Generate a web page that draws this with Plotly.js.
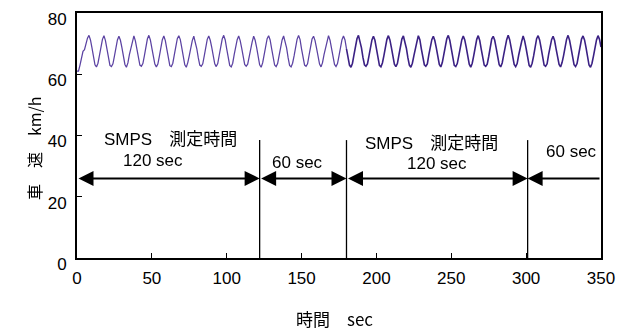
<!DOCTYPE html>
<html>
<head>
<meta charset="utf-8">
<script src="https://cdn.plot.ly/plotly-3.0.1.min.js"></script>
<style>
  html, body { margin: 0; padding: 0; background: #fff; }
  #chart { width: 617px; height: 330px; }
  #chart svg .annotation-text-g { filter: grayscale(1); }
</style>
</head>
<body>
<div id="chart"></div>
<script>
// Vehicle speed (km/h), logged once per second, t = 0 ... 350 s.
// One row per 10 seconds.
const speedRows = [
  [61.0, 61.0, 63.0, 65.5, 67.5, 68.0, 70.0, 71.8, 72.7, 71.2],
  [68.6, 65.4, 63.1, 62.4, 63.6, 66.2, 69.1, 71.4, 72.6, 71.0],
  [68.3, 65.2, 62.9, 62.5, 63.4, 65.9, 68.8, 71.2, 72.4, 71.1],
  [68.7, 65.6, 63.2, 62.3, 63.7, 66.4, 68.6, 70.3, 72.5, 70.9],
  [68.4, 65.3, 63.0, 62.6, 63.5, 66.0, 69.0, 71.5, 72.7, 71.2],
  [68.5, 65.7, 63.3, 62.4, 63.3, 65.8, 68.9, 71.3, 72.5, 71.0],
  [68.2, 65.1, 62.8, 62.5, 63.6, 66.3, 69.2, 71.6, 72.6, 71.3],
  [68.6, 65.5, 63.1, 62.3, 63.8, 66.1, 68.7, 71.0, 72.4, 70.8],
  [68.4, 65.4, 63.0, 62.6, 63.4, 66.0, 69.0, 71.4, 72.5, 71.1],
  [68.8, 65.8, 63.4, 62.5, 63.5, 66.2, 69.3, 71.5, 72.7, 71.2],
  [68.3, 65.2, 62.9, 62.4, 63.6, 66.4, 69.1, 71.3, 72.5, 71.0],
  [68.5, 65.5, 63.2, 62.6, 63.3, 65.7, 68.6, 70.6, 72.4, 71.1],
  [68.7, 65.6, 63.1, 62.3, 63.7, 66.3, 69.2, 71.6, 72.6, 71.2],
  [68.4, 65.3, 63.0, 62.5, 63.5, 66.1, 68.9, 71.2, 72.5, 70.9],
  [68.6, 65.4, 62.9, 62.4, 63.6, 66.0, 69.0, 71.4, 72.7, 71.3],
  [68.2, 65.1, 63.0, 62.6, 63.4, 66.2, 69.1, 71.5, 72.4, 71.0],
  [68.5, 65.6, 63.3, 62.4, 63.8, 66.4, 68.8, 70.9, 72.6, 71.1],
  [68.8, 65.7, 63.2, 62.5, 63.5, 66.0, 69.2, 71.3, 72.5, 71.2],
  [68.3, 65.3, 63.0, 62.3, 63.6, 66.3, 69.0, 71.6, 72.7, 71.0],
  [68.6, 65.5, 63.1, 62.6, 63.4, 65.9, 68.7, 71.2, 72.4, 71.1],
  [68.4, 65.2, 62.9, 62.4, 63.7, 66.1, 69.3, 71.4, 72.6, 71.2],
  [68.7, 65.6, 63.3, 62.5, 63.5, 66.2, 69.0, 71.5, 72.5, 70.9],
  [68.5, 65.4, 63.0, 62.3, 63.6, 66.0, 68.8, 70.5, 72.6, 71.3],
  [68.3, 65.3, 63.1, 62.6, 63.4, 66.3, 69.1, 71.3, 72.4, 71.0],
  [68.6, 65.5, 63.2, 62.4, 63.8, 66.4, 69.2, 71.6, 72.7, 71.1],
  [68.4, 65.2, 62.9, 62.5, 63.5, 66.0, 68.9, 71.2, 72.5, 71.2],
  [68.8, 65.7, 63.3, 62.3, 63.6, 66.1, 69.0, 71.4, 72.6, 71.0],
  [68.2, 65.1, 63.0, 62.6, 63.3, 65.8, 68.7, 71.5, 72.4, 71.1],
  [68.5, 65.6, 63.1, 62.4, 63.7, 66.3, 69.3, 71.3, 72.7, 71.3],
  [68.7, 65.4, 63.2, 62.5, 63.5, 66.2, 69.1, 70.7, 72.5, 70.9],
  [68.4, 65.3, 62.9, 62.3, 63.6, 66.0, 69.0, 71.6, 72.6, 71.2],
  [68.6, 65.5, 63.0, 62.6, 63.4, 66.4, 68.8, 71.3, 72.4, 71.0],
  [68.3, 65.2, 63.2, 62.4, 63.8, 66.1, 69.2, 71.4, 72.7, 71.1],
  [68.5, 65.6, 63.1, 62.5, 63.5, 66.2, 69.0, 71.5, 72.5, 71.2],
  [68.7, 65.4, 63.0, 62.3, 63.6, 66.0, 68.9, 71.2, 72.6, 71.4],
  [68.9]
];

// Measurement schedule: boundaries of each interval (s)
const periodStart = [0, 122, 180, 301];
const periodEnd   = [122, 180, 301, 350];
const headAtEnd   = [true, true, true, false];
const arrowLevel  = 26;     // km/h level of the interval arrows
const markerTop   = 38.5;   // height of the boundary lines

// Interval labels (text, x in s, y in km/h)
const labelText = ["SMPS　測定時間", "120 sec", "60 sec", "SMPS　測定時間", "120 sec", "60 sec"];
const labelX    = [62.5, 50.5, 147, 236.5, 240.5, 330];
const labelY    = [38.6, 32.0, 31.3, 37.4, 30.9, 34.8];

const xTicks = [0, 50, 100, 150, 200, 250, 300, 350];
const yTicks = [0, 20, 40, 60, 80];

const speed = [].concat(...speedRows);
const time = speed.map((_, i) => i);
const split = 180;

const FONT = "Liberation Sans, Arial, Noto Sans CJK JP, sans-serif";
const CJK = "Noto Sans CJK JP, Liberation Sans, sans-serif";

const traces = [
  {
    x: time.slice(0, split + 1), y: speed.slice(0, split + 1),
    type: "scatter", mode: "lines",
    line: { color: "#5b42a2", width: 1.25 },
    hoverinfo: "skip", showlegend: false
  },
  {
    x: time.slice(split), y: speed.slice(split),
    type: "scatter", mode: "lines",
    line: { color: "#3b2184", width: 1.6 },
    hoverinfo: "skip", showlegend: false
  }
];

const shapes = periodStart.slice(1).map(t => ({
  type: "line", xref: "x", yref: "y",
  x0: t, x1: t, y0: 0, y1: markerTop,
  line: { color: "#000", width: 1.3 }
}));

const annotations = [];
periodStart.forEach((s, i) => {
  const e = periodEnd[i];
  if (headAtEnd[i]) {
    annotations.push({
      xref: "x", yref: "y", axref: "x", ayref: "y",
      x: e, y: arrowLevel, ax: s, ay: arrowLevel,
      text: "", showarrow: true, arrowside: "end+start",
      arrowhead: 2, arrowsize: 1.5, arrowwidth: 2, arrowcolor: "#000",
      standoff: 0, startstandoff: 0
    });
  } else {
    annotations.push({
      xref: "x", yref: "y", axref: "x", ayref: "y",
      x: s, y: arrowLevel, ax: e, ay: arrowLevel,
      text: "", showarrow: true, arrowside: "end",
      arrowhead: 2, arrowsize: 1.5, arrowwidth: 2, arrowcolor: "#000",
      standoff: 0
    });
  }
});
labelText.forEach((t, i) => {
  annotations.push({
    xref: "x", yref: "y", x: labelX[i], y: labelY[i],
    text: t, showarrow: false,
    font: { family: FONT, size: 17, color: "#000" }
  });
});
// Axis titles
annotations.push({
  xref: "paper", yref: "paper", x: 0.492, y: -0.305,
  text: "時間　sec", showarrow: false,
  font: { family: CJK, size: 17, color: "#000" }
});
annotations.push({
  xref: "paper", yref: "paper", x: -0.11, y: 0.45,
  text: "車　速　km/h", textangle: -90, showarrow: false,
  font: { family: CJK, size: 16, color: "#000" }
});

const layout = {
  width: 617, height: 330,
  margin: { l: 77, r: 16, t: 13, b: 72, pad: 0 },
  paper_bgcolor: "#fff", plot_bgcolor: "#fff",
  font: { family: FONT, size: 17, color: "#000" },
  xaxis: {
    range: [0, 350], tickvals: xTicks, ticktext: xTicks.map(String),
    ticks: "inside", ticklen: 5, tickwidth: 1.2, tickcolor: "#000",
    showline: true, linewidth: 2, linecolor: "#000", mirror: true,
    showgrid: false, zeroline: false,
    tickfont: { family: FONT, size: 17 }, ticklabelstandoff: 4
  },
  yaxis: {
    range: [0, 80], tickvals: yTicks, ticktext: yTicks.map(String),
    ticks: "inside", ticklen: 5, tickwidth: 1.2, tickcolor: "#000",
    showline: true, linewidth: 2, linecolor: "#000", mirror: true,
    showgrid: false, zeroline: false,
    tickfont: { family: FONT, size: 17 }, ticklabelstandoff: 5,
    ticklabelshift: 6
  },
  shapes: shapes,
  annotations: annotations,
  showlegend: false
};

Plotly.newPlot("chart", traces, layout, { staticPlot: true, displayModeBar: false });
</script>
</body>
</html>
